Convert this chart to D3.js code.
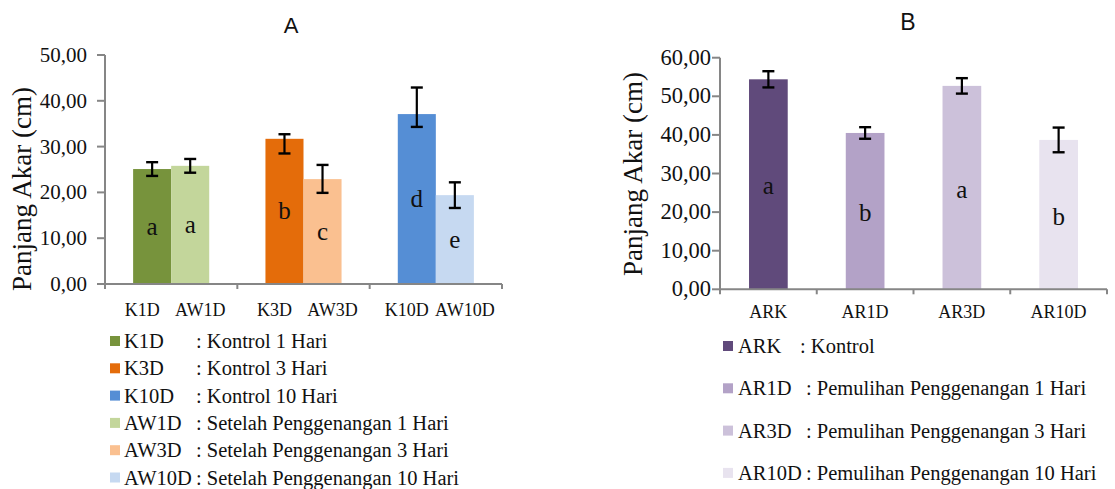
<!DOCTYPE html>
<meta charset="utf-8">
<title>Panjang Akar</title>
<script src="https://d3js.org/d3.v7.min.js"></script>
<style>
  body { margin: 0; background: #fff; }
</style>
<body>
</body>
<script>
// ---- chart A data ----
var groupsA = ["1D", "3D", "10D"];
var kontrolCodes = ["K1D", "K3D", "K10D"];
var setelahCodes = ["AW1D", "AW3D", "AW10D"];
var kontrolMeans = [25.1, 31.7, 37.1];
var kontrolErrUp = [1.5, 1.0, 5.8];
var kontrolErrDown = [1.5, 3.2, 2.8];
var setelahMeans = [25.8, 22.9, 19.4];
var setelahErrUp = [1.5, 3.1, 2.8];
var setelahErrDown = [1.5, 3.0, 2.8];
var kontrolLetters = ["a", "b", "d"];
var setelahLetters = ["a", "c", "e"];
var ticksA = [0, 10, 20, 30, 40, 50];
var legendA = [
  ["K1D", ": Kontrol 1 Hari"],
  ["K3D", ": Kontrol 3 Hari"],
  ["K10D", ": Kontrol 10 Hari"],
  ["AW1D", ": Setelah Penggenangan 1 Hari"],
  ["AW3D", ": Setelah Penggenangan 3 Hari"],
  ["AW10D", ": Setelah Penggenangan 10 Hari"]
];

// ---- chart B data ----
var codesB = ["ARK", "AR1D", "AR3D", "AR10D"];
var meansB = [54.4, 40.5, 52.7, 38.7];
var errB = [2.1, 1.5, 2.0, 3.2];
var lettersB = ["a", "b", "a", "b"];
var ticksB = [0, 10, 20, 30, 40, 50, 60];
var legendB = [
  ["ARK", ": Kontrol"],
  ["AR1D", ": Pemulihan Penggenangan 1 Hari"],
  ["AR3D", ": Pemulihan Penggenangan 3 Hari"],
  ["AR10D", ": Pemulihan Penggenangan 10 Hari"]
];

var kontrolColors = ["#77933C", "#E46C0A", "#558ED5"];
var setelahColors = ["#C3D69B", "#FAC090", "#C6D9F1"];
var colorsB = ["#604A7B", "#B3A2C7", "#CCC1DA", "#E8E3EF"];

var fmt = d3.formatLocale({decimal: ",", thousands: ".", grouping: [3], currency: ["", ""]}).format(".2f");
var axisGray = "#868686";
var serif = "'Liberation Serif', Tinos, 'Times New Roman', Times, 'DejaVu Serif', serif";
var sans = "'Liberation Sans', Arimo, Arial, sans-serif";

var svg = d3.select("body").append("svg")
            .attr("width", 1115)
            .attr("height", 489)
            .attr("font-family", serif)
            .attr("fill", "#111");

function errorBar(g, cx, y, lo, hi) {
  g.append("line").attr("x1", cx).attr("x2", cx)
   .attr("y1", y(hi)).attr("y2", y(lo))
   .attr("stroke", "#000").attr("stroke-width", 2.2);
  [hi, lo].forEach(function (v) {
    g.append("line").attr("x1", cx - 6).attr("x2", cx + 6)
     .attr("y1", y(v)).attr("y2", y(v))
     .attr("stroke", "#000").attr("stroke-width", 2.4);
  });
}

function yAxis(g, y, ticks, x0, fontSize, gap) {
  g.append("line").attr("x1", x0).attr("x2", x0)
   .attr("y1", y(ticks[0])).attr("y2", y(ticks[ticks.length - 1]))
   .attr("stroke", axisGray).attr("stroke-width", 2);
  ticks.forEach(function (t) {
    g.append("line").attr("x1", x0 - 8).attr("x2", x0)
     .attr("y1", y(t)).attr("y2", y(t))
     .attr("stroke", axisGray).attr("stroke-width", 2);
    g.append("text").attr("x", x0 - gap).attr("y", y(t) + 7)
     .attr("text-anchor", "end").attr("font-size", fontSize)
     .text(fmt(t));
  });
}

function xBaseline(g, x, y0) {
  var r = x.range();
  g.append("line").attr("x1", r[0]).attr("x2", r[1])
   .attr("y1", y0).attr("y2", y0)
   .attr("stroke", axisGray).attr("stroke-width", 2);
  d3.range(x.domain().length + 1).forEach(function (i) {
    var bx = r[0] + i * x.step();
    g.append("line").attr("x1", bx).attr("x2", bx)
     .attr("y1", y0).attr("y2", y0 + 5)
     .attr("stroke", axisGray).attr("stroke-width", 2);
  });
}

// ================= Chart A =================
var gA = svg.append("g");
var xA = d3.scaleBand().domain(groupsA).range([105, 502]).paddingInner(0.425).paddingOuter(0.2125);
var xSub = d3.scaleBand().domain([0, 1]).range([0, xA.bandwidth()]);
var yA = d3.scaleLinear().domain([0, 50]).range([284, 55]);

gA.append("text").attr("x", 291).attr("y", 33).attr("text-anchor", "middle")
  .attr("font-family", sans).attr("font-size", 22)
  .text("A");

yAxis(gA, yA, ticksA, 105, 21, 18);

groupsA.forEach(function (grp, i) {
  var series = [
    {code: kontrolCodes[i], v: kontrolMeans[i], up: kontrolErrUp[i], dn: kontrolErrDown[i], l: kontrolLetters[i], c: kontrolColors[i]},
    {code: setelahCodes[i], v: setelahMeans[i], up: setelahErrUp[i], dn: setelahErrDown[i], l: setelahLetters[i], c: setelahColors[i]}
  ];
  series.forEach(function (s, j) {
    var bx = xA(grp) + xSub(j);
    var cx = bx + xSub.bandwidth() / 2;
    gA.append("rect").attr("x", bx).attr("y", yA(s.v))
      .attr("width", xSub.bandwidth()).attr("height", yA(0) - yA(s.v))
      .attr("fill", s.c);
    errorBar(gA, cx, yA, s.v - s.dn, s.v + s.up);
    gA.append("text").attr("x", cx).attr("y", (yA(0) + yA(s.v)) / 2 + 8)
      .attr("text-anchor", "middle").attr("font-size", 25).text(s.l);
    gA.append("text").attr("x", cx + (j === 0 ? -10 : 10)).attr("y", 316)
      .attr("text-anchor", "middle").attr("font-size", 18).text(s.code);
  });
});

xBaseline(gA, xA, yA(0));

gA.append("text")
  .attr("transform", "translate(31,189) rotate(-90)")
  .attr("text-anchor", "middle").attr("font-size", 27)
  .text("Panjang Akar (cm)");

var legColorsA = kontrolColors.concat(setelahColors);
legendA.forEach(function (d, i) {
  var ly = 341 + i * 27.3;
  gA.append("rect").attr("x", 110).attr("y", ly - 5).attr("width", 10).attr("height", 10)
    .attr("fill", legColorsA[i]);
  gA.append("text").attr("x", 124).attr("y", ly + 7).attr("font-size", 20.5).text(d[0]);
  gA.append("text").attr("x", 196).attr("y", ly + 7).attr("font-size", 20.5).text(d[1]);
});

// ================= Chart B =================
var gB = svg.append("g");
var xB = d3.scaleBand().domain(codesB).range([720, 1107]).paddingInner(0.6).paddingOuter(0.3);
var yB = d3.scaleLinear().domain([0, 60]).range([289.3, 57.7]);

gB.append("text").attr("x", 908).attr("y", 30).attr("text-anchor", "middle")
  .attr("font-family", sans).attr("font-size", 23)
  .text("B");

yAxis(gB, yB, ticksB, 720, 22.5, 9);

codesB.forEach(function (code, i) {
  var bx = xB(code);
  var cx = bx + xB.bandwidth() / 2;
  gB.append("rect").attr("x", bx).attr("y", yB(meansB[i]))
    .attr("width", xB.bandwidth()).attr("height", yB(0) - yB(meansB[i]))
    .attr("fill", colorsB[i]);
  errorBar(gB, cx, yB, meansB[i] - errB[i], meansB[i] + errB[i]);
  gB.append("text").attr("x", cx).attr("y", (yB(0) + yB(meansB[i])) / 2 + 10)
    .attr("text-anchor", "middle").attr("font-size", 25).text(lettersB[i]);
  gB.append("text").attr("x", cx).attr("y", 318)
    .attr("text-anchor", "middle").attr("font-size", 18).text(code);
});

xBaseline(gB, xB, yB(0));

gB.append("text")
  .attr("transform", "translate(642,174) rotate(-90)")
  .attr("text-anchor", "middle").attr("font-size", 27)
  .text("Panjang Akar (cm)");

legendB.forEach(function (d, i) {
  var ly = 346 + i * 42.3;
  gB.append("rect").attr("x", 723).attr("y", ly - 5).attr("width", 10).attr("height", 10)
    .attr("fill", colorsB[i]);
  gB.append("text").attr("x", 738).attr("y", ly + 7).attr("font-size", 20.5).text(d[0]);
  gB.append("text").attr("x", i === 0 ? 800 : 806).attr("y", ly + 7).attr("font-size", 20.5).text(d[1]);
});
</script>
